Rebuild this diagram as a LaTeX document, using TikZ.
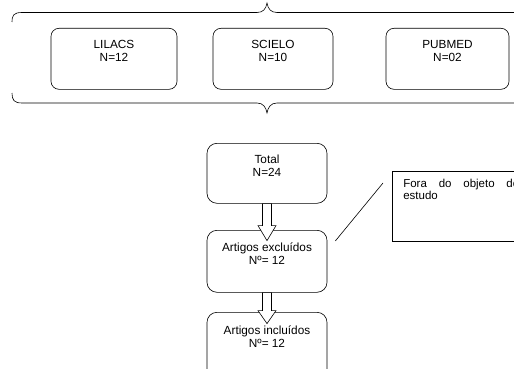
\documentclass[tikz,border=0pt]{standalone}
\usepackage{fontspec}
\setmainfont{Liberation Sans}
\usetikzlibrary{calc}
\tikzset{
  dbbox/.style={draw, line width=0.6pt, rounded corners=8pt, inner xsep=0pt, inner ysep=0pt,
    align=center, anchor=north, font=\fontsize{11.8}{13}\selectfont, minimum height=0pt},
  flowbox/.style={dbbox, rounded corners=10pt, minimum width=120pt, font=\fontsize{11.8}{13.5}\selectfont},
  notebox/.style={draw, line width=0.6pt, anchor=north west, inner xsep=11pt, inner ysep=0pt,
    align=left, font=\fontsize{11.5}{12}\selectfont},
  blockarrow/.style={draw, line width=0.6pt, fill=white, line join=miter},
  bracepath/.style={draw, line width=0.6pt},
  thinline/.style={draw, line width=0.6pt}
}
\begin{document}
\begin{tikzpicture}[x=1pt,y=-1pt]
\clip (0,0) rectangle (514,369);
\fill[white] (0,0) rectangle (514,369);
% braces
\draw[bracepath] (12,22) .. controls (12,15) and (14,12.5) .. (22,12.5) -- (257,12.5)
  .. controls (263,12.5) and (266,9) .. (267,3) .. controls (268,9) and (271,12.5) .. (277,12.5) -- (520,12.5);
\draw[bracepath] (12,93) .. controls (12,100) and (14,103) .. (22,103) -- (257,103)
  .. controls (263,103) and (266,107) .. (267,113) .. controls (268,107) and (271,103) .. (277,103) -- (520,103);
% database boxes
\node[dbbox, minimum width=126pt, text height=33pt, text depth=28pt] (lil) at (114,28) {LILACS\\N=12};
\node[dbbox, minimum width=120pt, text height=33pt, text depth=28pt] (sci) at (273,28) {SCIELO\\N=10};
\node[dbbox, minimum width=123pt, text height=33pt, text depth=28pt] (pub) at (447.5,28) {PUBMED\\N=02};
% flow boxes
\node[flowbox, text height=33.5pt, text depth=26.5pt] (total) at (267,143) {Total\\N=24};
\node[flowbox, text height=34.5pt, text depth=27.5pt] (excl) at (267,230) {Artigos excluídos\\Nº= 12};
\node[flowbox, text height=35.5pt, text depth=50pt] (incl) at (267,312) {Artigos incluídos\\Nº= 12};
% note box
\node[notebox, text height=28pt, text depth=42pt] (fora) at (392,171)
  {\makebox[116pt][s]{Fora do objeto de}\\estudo};
% block arrows
\draw[blockarrow, shift={(total.south)}] (-4.5,0) -- (-4.5,22) -- (-9,22) -- (0,37) -- (9,22) -- (4.5,22) -- (4.5,0) -- cycle;
\draw[blockarrow, shift={(excl.south)}] (-4.5,0) -- (-4.5,18) -- (-9,18) -- (0,31) -- (9,18) -- (4.5,18) -- (4.5,0) -- cycle;
% connector
\draw[thinline] ($(excl.north east)+(8,11)$) -- ($(fora.north west)+(-9,12)$);
\end{tikzpicture}
\end{document}
